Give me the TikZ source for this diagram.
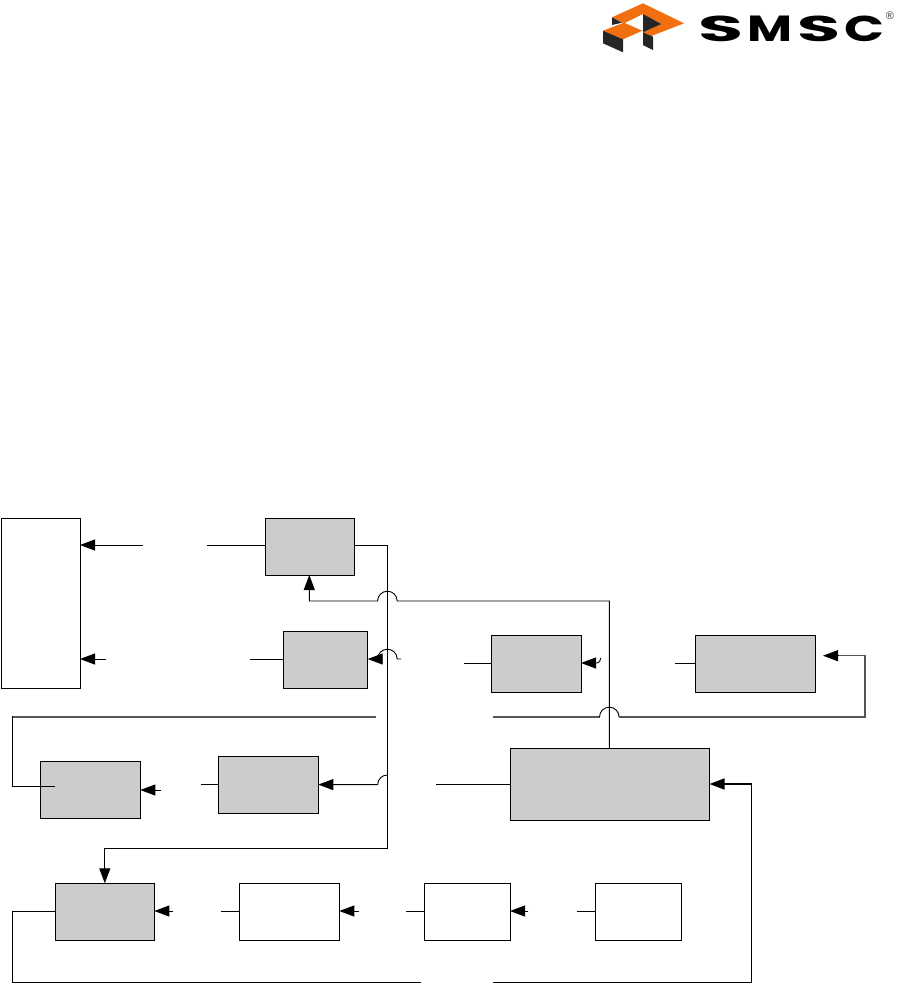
\documentclass[tikz,border=0pt]{standalone}
\usepackage{fontspec}
\usepackage{graphicx}
\setmainfont{Liberation Sans}
\newfontfamily\logofont{Poppins}
\usetikzlibrary{arrows.meta}
\definecolor{boxgray}{HTML}{CCCCCC}
\definecolor{wiregray}{HTML}{555555}
\definecolor{logoorange}{HTML}{F26F0F}
\definecolor{logodark}{HTML}{262626}
\newcommand{\logoletter}[2]{\resizebox{#1pt}{25.5pt}{\logofont\bfseries #2}}
\tikzset{
  blockbase/.style={draw=black,line width=0.9pt,inner sep=0pt,outer sep=0pt,anchor=north west},
  grayblock/.style={blockbase,fill=boxgray},
  whiteblock/.style={blockbase,fill=white},
  wire/.style={draw=black,line width=0.9pt,line join=miter},
  thickwire/.style={draw=wiregray,line width=1.4pt,line join=miter},
  arrowwire/.style={wire,-{Triangle[length=15pt,width=11pt]}},
  thickarrow/.style={draw=black,line width=1.4pt,-{Triangle[length=15pt,width=11pt]}},
}
\begin{document}
\begin{tikzpicture}[x=1pt,y=-1pt]
\useasboundingbox (0,0) rectangle (903,994);
% logo
\fill[logoorange] (643,3.3)--(684,23.3)--(651.3,36)--(643,32.3)--(661.3,24)--(643,14)--(624,23.3)--(612,17.3)--cycle;
\fill[logodark] (643,14)--(661.3,24)--(643,32.3)--cycle;
\fill[logodark] (612,17.3)--(622,22.7)--(612,25)--cycle;
\fill[logoorange] (603,30.7)--(624,22.7)--(642.3,30.7)--(623,39.3)--cycle;
\fill[logodark] (603,30.7)--(623,39.3)--(623,52.3)--(603,43.3)--cycle;
\fill[logodark] (643,32.3)--(653,36.7)--(653,50)--(643,45)--cycle;
\node[anchor=base west,inner sep=0pt,text=black] (logotext) at (698,41) {\logoletter{45}{S}\hspace{4pt}\logoletter{45}{M}\hspace{5pt}\logoletter{43}{S}\hspace{4pt}\logoletter{40}{C}};
\node[inner sep=0pt,text=black!80,font=\fontsize{11}{11}\selectfont] (logoreg) at (890,15.5) {®};
% blocks
\node[whiteblock,minimum width=79pt,minimum height=170pt] (A) at (1,518) {};
\node[grayblock,minimum width=89pt,minimum height=57pt] (B) at (265,518) {};
\node[grayblock,minimum width=84.7pt,minimum height=57pt] (C) at (283,631) {};
\node[grayblock,minimum width=90pt,minimum height=57pt] (D) at (491,635.3) {};
\node[grayblock,minimum width=120pt,minimum height=57pt] (E) at (695,635.3) {};
\node[grayblock,minimum width=199pt,minimum height=72pt] (F) at (510.5,748) {};
\node[grayblock,minimum width=100pt,minimum height=57pt] (G) at (218.3,756.3) {};
\node[grayblock,minimum width=100pt,minimum height=57pt] (H) at (40.3,761.3) {};
\node[grayblock,minimum width=99pt,minimum height=57pt] (I) at (55.3,883.3) {};
\node[whiteblock,minimum width=100pt,minimum height=57pt] (J) at (239.3,883.3) {};
\node[whiteblock,minimum width=86pt,minimum height=57pt] (K) at (424,883.3) {};
\node[whiteblock,minimum width=86pt,minimum height=57pt] (L) at (595,883.3) {};
% free ends
\coordinate (a1) at (143,545);
\coordinate (a2) at (207,545);
\coordinate (a3) at (106,659);
\coordinate (a4) at (250,659);
\coordinate (c1) at (401,659);
\coordinate (d0) at (464,663);
\coordinate (d1) at (600.7,658);
\coordinate (e0) at (675,663);
\coordinate (e1) at (493,717);
\coordinate (etail) at (838,655.7);
\coordinate (etip) at (823,655.7);
\coordinate (h1) at (375.7,717);
\coordinate (h2) at (55,786.7);
\coordinate (g1) at (201,784.3);
\coordinate (h3) at (161,790);
\coordinate (f1) at (436,784.3);
\coordinate (i1) at (173,911);
\coordinate (j1) at (221,911);
\coordinate (j2) at (359,911);
\coordinate (k1) at (406,911);
\coordinate (k2) at (528,911);
\coordinate (l1) at (577,911);
\coordinate (b1) at (421,982.3);
\coordinate (b2) at (493,982.3);
\coordinate (v) at (387.3,545);
% top row
\draw[arrowwire] (a1) -- (A.east |- a1);
\draw[wire] (a2) -- (B.west |- a2);
\draw[arrowwire] (a3) -- (A.east |- a3);
\draw[wire] (a4) -- (C.west |- a4);
% B to I, long vertical
\draw[arrowwire] (B.east |- v) -- (v) -- (387.3,848.3) -- (I.north |- 0,848.3) -- (I.north);
% F up to B, hop over the vertical
\draw[arrowwire] (609.3,748) -- (609.3,601) -- (397.2,601) arc[start angle=0,end angle=180,radius=9.8pt] -- (309.3,601) -- (B.south -| 309.3,0);
% into C, hop
\draw[arrowwire] (c1) -- (397.2,659) arc[start angle=0,end angle=180,radius=9.8pt] -- (C.east |- 0,659);
% D
\draw[wire] (d0) -- (D.west |- d0);
\draw[arrowwire] (d1) .. controls (600.7,661) and (599,663) .. (597,663) -- (D.east |- 0,663);
% E
\draw[wire] (e0) -- (E.west |- e0);
\draw[thickwire] (e1) -- (599.5,717);
\draw[wire] (599.5,717) arc[start angle=180,end angle=0,radius=9.8pt];
\draw[thickwire] (619.1,717) -- (865,717) -- (865,655.7) -- (etail);
\draw[wire,-{Triangle[length=15pt,width=11pt]}] (etail) -- (etip);
% H feed
\draw[thickwire] (h1) -- (12.3,717);
\draw[wire] (12.3,716.3) -- (12.3,786.7) -- (h2);
% G and H
\draw[arrowwire] (387.3,775) arc[start angle=90,end angle=180,radius=9.6pt] -- (G.east |- 0,784.6);
\draw[wire] (f1) -- (F.west |- f1);
\draw[wire] (g1) -- (G.west |- g1);
\draw[arrowwire] (h3) -- (H.east |- h3);
% bottom row
\draw[arrowwire] (i1) -- (I.east |- i1);
\draw[wire] (j1) -- (J.west |- j1);
\draw[arrowwire] (j2) -- (J.east |- j2);
\draw[wire] (k1) -- (K.west |- k1);
\draw[arrowwire] (k2) -- (K.east |- k2);
\draw[wire] (l1) -- (L.west |- l1);
% return bus
\draw[wire] (I.west |- i1) -- (12.3,911) -- (12.3,982.3) -- (b1);
\draw[wire] (b2) -- (751,982.3) -- (751,784) -- (725,784);
\draw[thickarrow] (751.5,784) -- (F.east |- 0,784);
\end{tikzpicture}
\end{document}
